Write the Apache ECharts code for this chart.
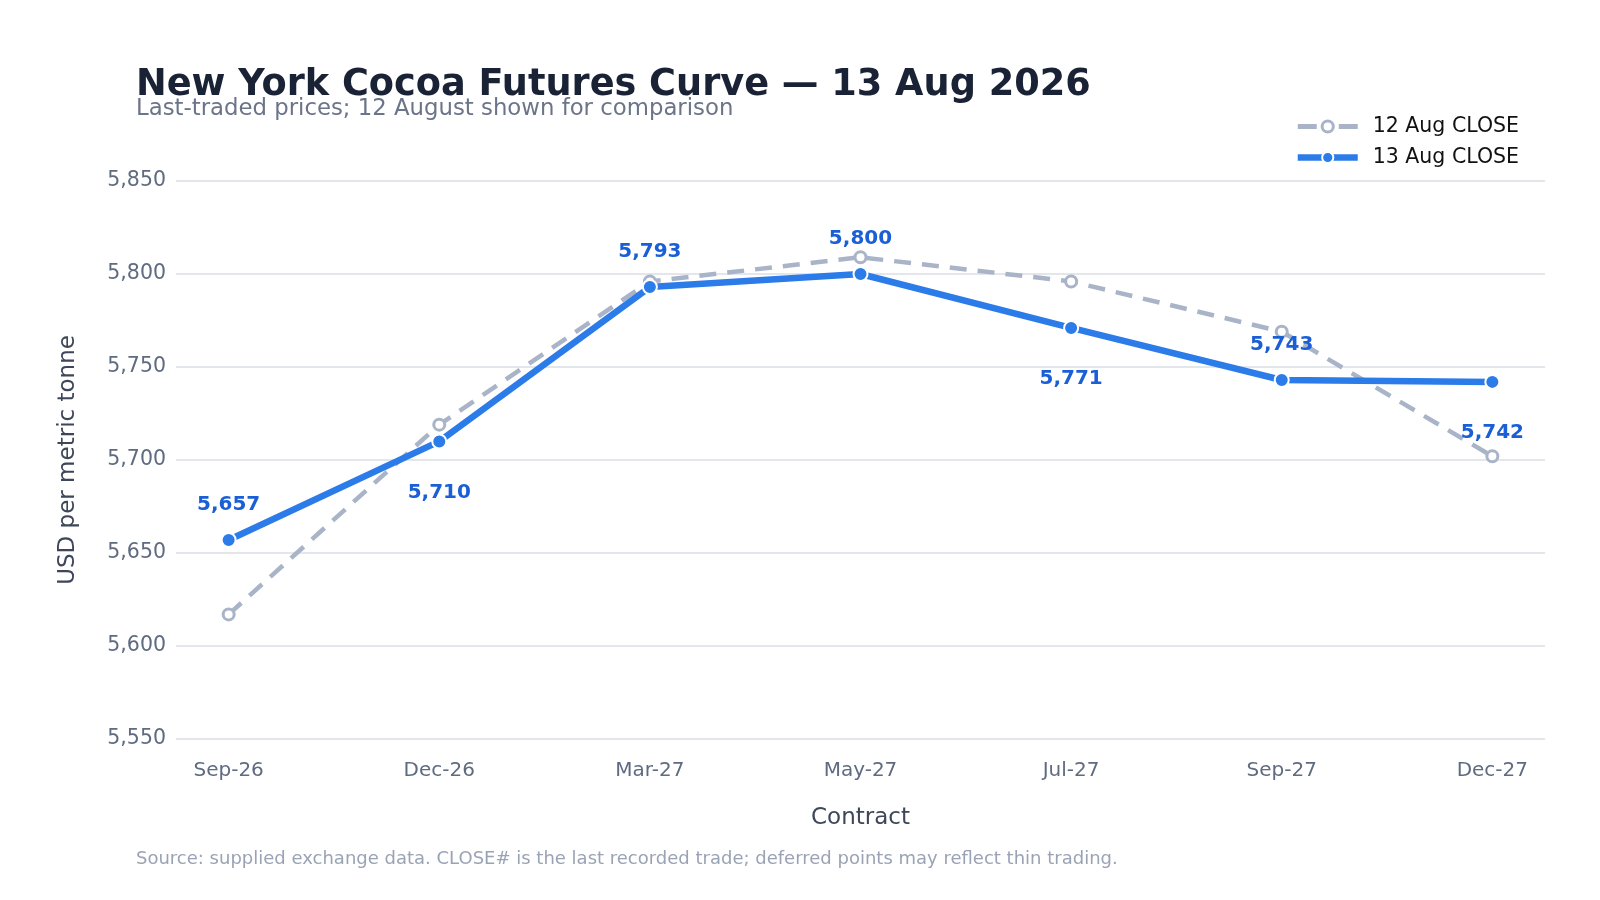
<!DOCTYPE html>
<html>
<head>
    <meta charset="utf-8">
    <title>New York Cocoa Futures Curve</title>
    <script src="https://cdn.jsdelivr.net/npm/echarts@6/dist/echarts.min.js"></script>
    <style>
        html, body { margin: 0; padding: 0; background: #ffffff; }
    </style>
</head>
<body>
    <div id="chart" style="width: 1600px; height: 900px;"></div>

    <script>
        // contract months and closes (USD / t)
        const contracts = ['Sep-26', 'Dec-26', 'Mar-27', 'May-27', 'Jul-27', 'Sep-27', 'Dec-27'];
        const close12Aug = [5617, 5719, 5796, 5809, 5796, 5769, 5702];
        const close13Aug = [5657, 5710, 5793, 5800, 5771, 5743, 5742];
        const yTicks = [5550, 5600, 5650, 5700, 5750, 5800, 5850];

        // where each 13 Aug label sits relative to its point
        const labelSide = ['top', 'bottom', 'top', 'top', 'bottom', 'top', 'bottom'];

        const FONT = 'DejaVu Sans';
        const GREY = '#a9b4c8';
        const BLUE = '#2b7be9';
        const fmt = v => v.toLocaleString('en-US');

        const chart = echarts.init(document.getElementById('chart'));

        const option = {
            backgroundColor: '#ffffff',
            textStyle: { fontFamily: FONT },
            animation: false,
            title: [
                {
                    text: 'New York Cocoa Futures Curve \u2014 13 Aug 2026',
                    subtext: 'Last-traded prices; 12 August shown for comparison',
                    left: 131,
                    top: 62,
                    itemGap: -6,
                    textStyle: { fontFamily: FONT, fontSize: 36.7, fontWeight: 'bold', color: '#1a2236' },
                    subtextStyle: { fontFamily: FONT, fontSize: 22.8, color: '#6b7489' }
                },
                {
                    text: 'Source: supplied exchange data. CLOSE# is the last recorded trade; deferred points may reflect thin trading.',
                    left: 131,
                    top: 845,
                    textStyle: { fontFamily: FONT, fontSize: 18, fontWeight: 'normal', color: '#9aa3b5' }
                }
            ],
            legend: {
                orient: 'vertical',
                right: 76,
                top: 111,
                itemWidth: 60,
                itemHeight: 14,
                itemGap: 10,
                textStyle: { fontFamily: FONT, fontSize: 20.5, color: '#111111', padding: [0, 0, 0, 10] },
                data: [
                    {
                        name: '12 Aug CLOSE',
                        lineStyle: { width: 5, type: [19, 22], color: GREY },
                        itemStyle: { color: '#ffffff', borderColor: GREY, borderWidth: 3 }
                    },
                    {
                        name: '13 Aug CLOSE',
                        lineStyle: { width: 6.5, color: BLUE },
                        itemStyle: { color: BLUE, borderColor: '#ffffff', borderWidth: 2 }
                    }
                ]
            },
            grid: {
                left: 176,
                right: 55,
                top: 181,
                bottom: 161
            },
            xAxis: {
                type: 'value',
                min: -0.25,
                max: 6.25,
                name: 'Contract',
                nameLocation: 'middle',
                nameGap: 68,
                nameTextStyle: { fontFamily: FONT, fontSize: 23, color: '#3d4759' },
                axisLine: { show: false },
                axisTick: { show: false },
                splitLine: { show: false },
                axisLabel: {
                    customValues: contracts.map((c, i) => i),
                    formatter: v => contracts[Math.round(v)] || '',
                    margin: 22,
                    fontFamily: FONT,
                    fontSize: 20,
                    color: '#5f6b80'
                }
            },
            yAxis: {
                type: 'value',
                min: yTicks[0],
                max: yTicks[yTicks.length - 1],
                interval: 50,
                name: 'USD per metric tonne',
                nameLocation: 'middle',
                nameGap: 96,
                nameTextStyle: { fontFamily: FONT, fontSize: 23, color: '#3d4759' },
                axisLine: { show: false },
                axisTick: { show: false },
                splitLine: { lineStyle: { color: '#e3e6eb', width: 2 } },
                axisLabel: {
                    formatter: v => fmt(v),
                    margin: 10,
                    fontFamily: FONT,
                    fontSize: 20.5,
                    color: '#5f6b80'
                }
            },
            series: [
                {
                    name: '12 Aug CLOSE',
                    type: 'line',
                    data: close12Aug.map((v, i) => [i, v]),
                    symbol: 'circle',
                    symbolSize: 11,
                    z: 2,
                    lineStyle: { color: GREY, width: 4.5, type: [17, 11] },
                    itemStyle: { color: '#ffffff', borderColor: GREY, borderWidth: 3 }
                },
                {
                    name: '13 Aug CLOSE',
                    type: 'line',
                    data: close13Aug.map((v, i) => ({
                        value: [i, v],
                        label: {
                            position: labelSide[i],
                            distance: labelSide[i] === 'top' ? 17 : 33
                        }
                    })),
                    symbol: 'circle',
                    symbolSize: 14,
                    z: 3,
                    lineStyle: { color: BLUE, width: 6.5 },
                    itemStyle: { color: BLUE, borderColor: '#ffffff', borderWidth: 2 },
                    label: {
                        show: true,
                        formatter: p => fmt(p.value[1]),
                        fontFamily: FONT,
                        fontSize: 20,
                        fontWeight: 'bold',
                        color: '#1a5fd6'
                    }
                }
            ]
        };

        chart.setOption(option);
    </script>
</body>
</html>
